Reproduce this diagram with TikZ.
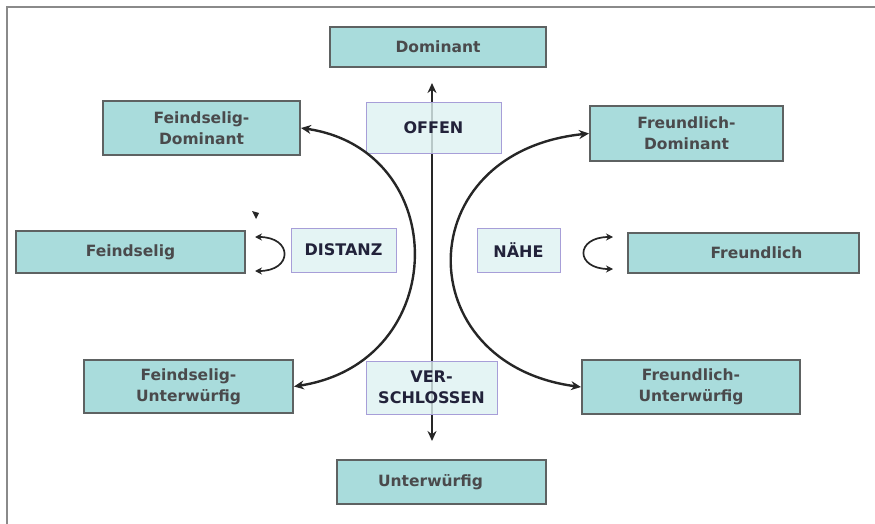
\documentclass[tikz,border=0pt]{standalone}
\usepackage{fontspec}
\setmainfont{DejaVu Sans}
\usetikzlibrary{arrows.meta}
\definecolor{tealfill}{HTML}{A9DCDC}
\definecolor{tealdraw}{HTML}{5E6262}
\definecolor{tealtext}{HTML}{4A4A4C}
\definecolor{lightfill}{HTML}{DDF1F1}
\definecolor{lightdraw}{HTML}{A79ED8}
\definecolor{lighttext}{HTML}{22223A}
\definecolor{framegray}{HTML}{8A8A8A}
\tikzset{
  tealbox/.style={draw=tealdraw, line width=2pt, fill=tealfill, text=tealtext,
    font=\fontsize{15.5}{21}\selectfont\bfseries, align=center, inner sep=0pt},
  lightbox/.style={draw=lightdraw, line width=1pt, fill=lightfill, fill opacity=0.8, text opacity=1, text=lighttext,
    font=\fontsize{16}{21}\selectfont\bfseries, align=center, inner sep=0pt},
  conn/.style={line width=2.4pt, black!85, {Stealth[length=10pt,width=9pt]}-{Stealth[length=10pt,width=9pt]}},
  smallconn/.style={line width=1.7pt, black!85, {Stealth[length=7pt,width=7pt]}-{Stealth[length=7pt,width=7pt]}}
}
\begin{document}
\begin{tikzpicture}[x=1pt,y=-1pt]
\useasboundingbox (0,0) rectangle (875,524);
% frame
\draw[framegray, line width=2pt] (7,524) -- (7,7) -- (875,7);
% vertical axis
\coordinate (axtop) at (432,83);
\coordinate (axbot) at (432,441);
\draw[conn] (axtop) -- (axbot);
% boxes
\node[tealbox, minimum width=216pt, minimum height=40pt] (dom) at (438,47) {Dominant};
\node[tealbox, minimum width=209pt, minimum height=44pt] (unt) at (441.5,482) {\hspace*{-22pt}Unterwürfig};
\node[tealbox, minimum width=197pt, minimum height=54pt] (fd) at (201.5,128) {Feindselig-\\Dominant};
\node[tealbox, minimum width=193pt, minimum height=55pt] (frd) at (686.5,133.5) {Freundlich-\\Dominant};
\node[tealbox, minimum width=229pt, minimum height=42pt] (fs) at (130.5,252) {Feindselig};
\node[tealbox, minimum width=231pt, minimum height=40pt] (fr) at (743.5,253) {\hspace*{26pt}Freundlich};
\node[tealbox, minimum width=209pt, minimum height=53pt] (fu) at (188.5,386.5) {Feindselig-\\Unterwürfig};
\node[tealbox, minimum width=218pt, minimum height=54pt] (fru) at (691,387) {Freundlich-\\Unterwürfig};
\node[lightbox, minimum width=135pt, minimum height=50pt] (off) at (433.5,128) {OFFEN};
\node[lightbox, minimum width=105pt, minimum height=44pt] (dis) at (343.5,250) {DISTANZ};
\node[lightbox, minimum width=83pt, minimum height=44pt] (nah) at (518.5,250) {NÄHE};
\node[lightbox, minimum width=131pt, minimum height=53pt] (ver) at (431.5,387.5) {VER-\\SCHLOSSEN};
% big arcs
\draw[conn] (fd.east) .. controls (452,150) and (452,362) .. (fu.east);
\draw[conn] (frd.west) .. controls (408,152) and (408,364) .. (fru.west);
% small loops
\coordinate (lt) at (255,237);
\coordinate (lb) at (255,271);
\draw[smallconn] (lt) .. controls (293,237) and (293,271) .. (lb);
\coordinate (rt) at (613,237);
\coordinate (rb) at (613,269);
\draw[smallconn] (rt) .. controls (575,237) and (575,269) .. (rb);
% stray small arrowhead
\fill[black!85] (252,211) -- (259,213) -- (256,219) -- cycle;
\end{tikzpicture}
\end{document}
